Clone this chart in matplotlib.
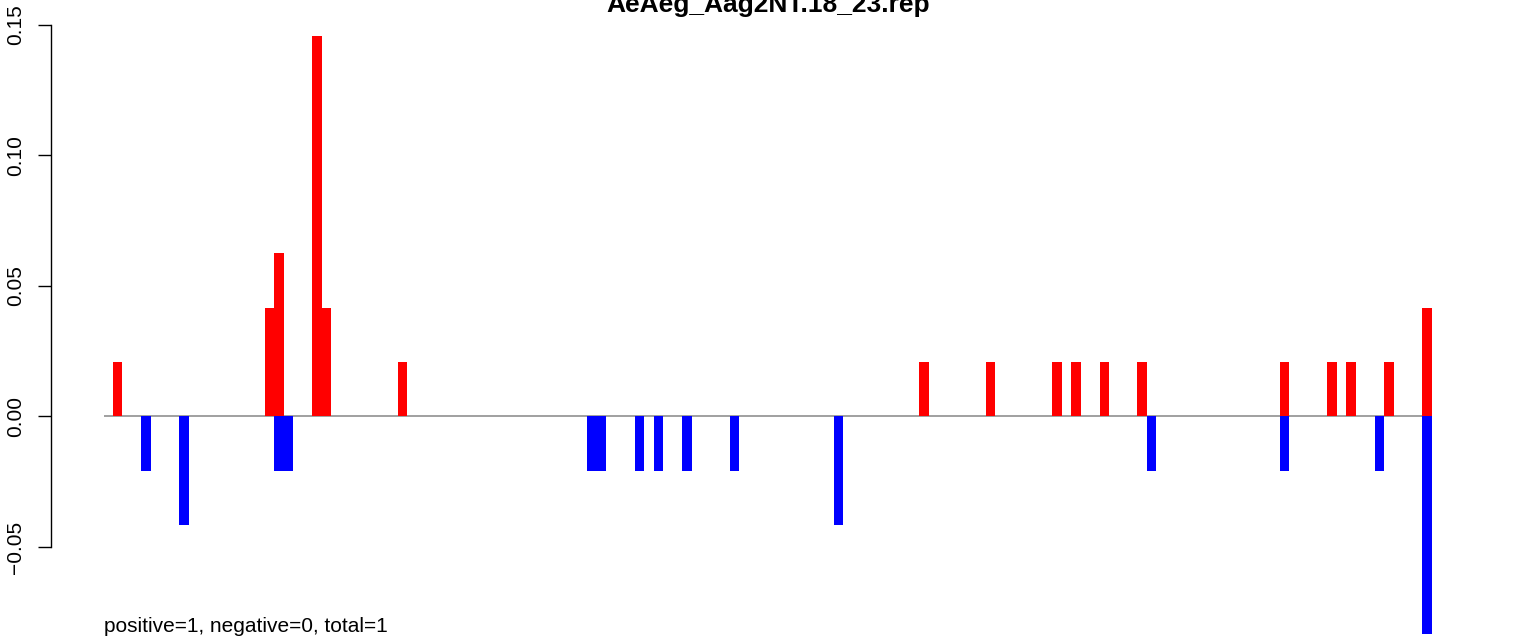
import matplotlib
matplotlib.use('Agg')
import matplotlib.pyplot as plt

plt.rcParams['font.family'] = ['Liberation Sans', 'DejaVu Sans']

title = 'AeAeg_Aag2NT.18_23.rep'
note = 'positive=1, negative=0, total=1'
n_bins = 140

# bin index -> height (positive strand, red)
pos_bins = [1, 17, 18, 22, 23, 31, 86, 93, 100, 102, 105, 109, 124, 129, 131, 135, 139]
pos_vals = [0.0208, 0.0417, 0.0625, 0.1458, 0.0417, 0.0208, 0.0208, 0.0208, 0.0208,
            0.0208, 0.0208, 0.0208, 0.0208, 0.0208, 0.0208, 0.0208, 0.0417]

# bin index -> height (negative strand, blue)
neg_bins = [4, 8, 18, 19, 51, 52, 56, 58, 61, 66, 77, 110, 124, 134, 139]
neg_vals = [-0.0208, -0.0417, -0.0208, -0.0208, -0.0208, -0.0208, -0.0208, -0.0208,
            -0.0208, -0.0208, -0.0417, -0.0208, -0.0208, -0.0208, -0.0833]

yticks = [-0.05, 0.00, 0.05, 0.10, 0.15]
ytick_labels = ['\u22120.05', '0.00', '0.05', '0.10', '0.15']

W, H = 1536, 638
fig = plt.figure(figsize=(W / 100, H / 100), dpi=100)

# axes placed in pixels so bars line up with the reference
x0, x1 = 103.5, 1431.5
ylo, yhi = -0.0845, 0.155
y_zero, px_per_unit = 416.5, 2613.0
top_px = y_zero - yhi * px_per_unit
bot_px = y_zero - ylo * px_per_unit
ax = fig.add_axes([x0 / W, (H - bot_px) / H, (x1 - x0) / W, (bot_px - top_px) / H])

ax.axhline(0, color='#999999', lw=1.3, zorder=1)
ax.bar(pos_bins, pos_vals, width=1, align='edge', color='#ff0000', linewidth=0, zorder=2)
ax.bar(neg_bins, neg_vals, width=1, align='edge', color='#0000ff', linewidth=0, zorder=2)

ax.set_xlim(0, n_bins)
ax.set_ylim(ylo, yhi)
ax.set_xticks([])
for s in ['top', 'right', 'bottom']:
    ax.spines[s].set_visible(False)
ax.spines['left'].set_position(('outward', (x0 - 51) * 0.72))
ax.spines['left'].set_bounds(-0.05, 0.15)
ax.spines['left'].set_linewidth(1.0)
ax.set_yticks(yticks)
ax.set_yticklabels(ytick_labels, rotation=90, va='center', fontsize=15)
ax.tick_params(axis='y', length=9.7, width=1.0, pad=9)

# title sits partly above the top edge, as in the reference
fig.text(0.5, 1 - 12 / H, title, ha='center', va='baseline', fontsize=19, weight='bold')
fig.text(104 / W, 1 - 632 / H, note, ha='left', va='baseline', fontsize=15)

fig.savefig('out.png', dpi=100)
plt.close('all')
